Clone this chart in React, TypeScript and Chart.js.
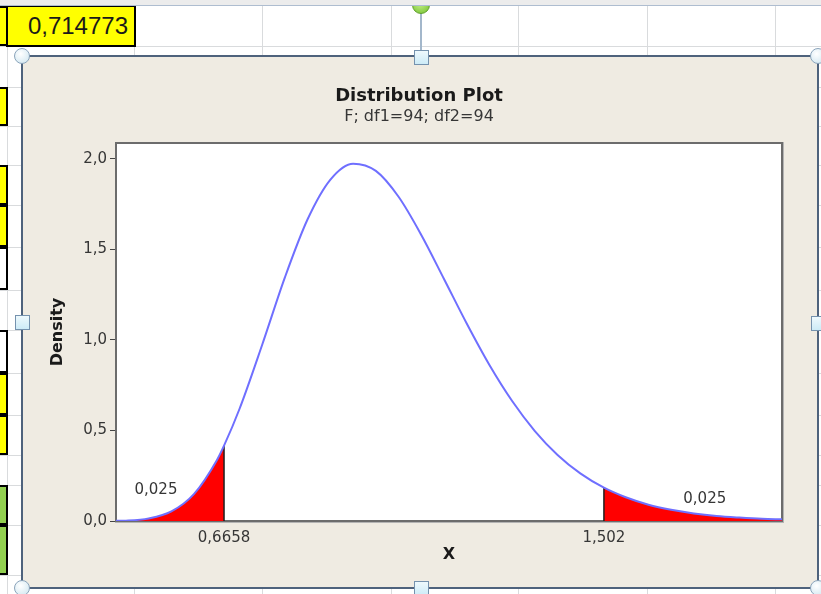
import React, { useEffect, useRef } from "react";
import { Chart, registerables } from "chart.js";

Chart.register(...registerables);

// ---- data ----
const xValues = [
  0.428, 0.45, 0.5, 0.55, 0.6, 0.65, 0.6658, 0.7, 0.75, 0.8, 0.85, 0.9, 0.95, 1.0,
  1.05, 1.1, 1.15, 1.2, 1.25, 1.3, 1.35, 1.4, 1.45, 1.502, 1.55, 1.6, 1.65, 1.7,
  1.75, 1.8, 1.85, 1.894,
];
const density = [
  0.001, 0.002, 0.014, 0.053, 0.15, 0.336, 0.416, 0.62, 0.975, 1.347, 1.668, 1.886,
  1.974, 1.934, 1.791, 1.58, 1.337, 1.091, 0.862, 0.663, 0.497, 0.365, 0.263, 0.184,
  0.131, 0.09, 0.062, 0.042, 0.028, 0.019, 0.012, 0.009,
];
const criticalValues = [0.6658, 1.502];
const criticalDensity = [0.416, 0.184];
const tailProbLabels = ["0,025", "0,025"];
const tailLabelX = [0.516, 1.724];
const tailLabelY = [0.171, 0.122];
const yTickValues = [0, 0.5, 1.0, 1.5, 2.0];
const xMin = 0.428;
const xMax = 1.894;
const yMax = 2.088;
const titleText = "Distribution Plot";
const subtitleText = "F; df1=94; df2=94";
const xTitle = "X";
const yTitle = "Density";
const cellValue = "0,714773";

// ---- spreadsheet layout (decoration) ----
const rowLines = [46, 87, 126, 165, 205, 247, 290, 330, 373, 415, 455, 485, 525, 575];
const colLines = [7, 134, 262, 391, 518, 647, 775];
const leftCells: [number, number, string][] = [
  [6, 46, "#ffff00"],
  [87, 126, "#ffff00"],
  [165, 205, "#ffff00"],
  [205, 247, "#ffff00"],
  [247, 290, "#ffffff"],
  [330, 373, "#ffffff"],
  [373, 415, "#ffff00"],
  [415, 455, "#ffff00"],
  [485, 525, "#92d050"],
  [525, 575, "#92d050"],
];

const FONT = "'DejaVu Sans', Verdana, sans-serif";
const TEXT = "#363636";

const decor = {
  id: "decor",
  beforeDraw(chart: any) {
    const { ctx, chartArea: a } = chart;
    ctx.save();
    ctx.fillStyle = "#ffffff";
    ctx.fillRect(a.left, a.top, a.right - a.left, a.bottom - a.top);
    ctx.restore();
  },
  beforeDatasetsDraw(chart: any) {
    const { ctx, chartArea: a } = chart;
    ctx.save();
    ctx.strokeStyle = "#b4b4b4";
    ctx.lineWidth = 1;
    ctx.strokeRect(a.left - 0.5, a.top - 0.5, a.right - a.left + 2, a.bottom - a.top + 2);
    ctx.strokeStyle = "#6c6c6c";
    ctx.lineWidth = 2;
    ctx.strokeRect(a.left, a.top, a.right - a.left, a.bottom - a.top);
    ctx.restore();
  },
  afterDatasetsDraw(chart: any) {
    const { ctx, scales } = chart;
    ctx.save();
    ctx.font = `15px ${FONT}`;
    ctx.fillStyle = TEXT;
    ctx.textAlign = "center";
    ctx.textBaseline = "middle";
    tailProbLabels.forEach((t, i) => {
      ctx.fillText(t, scales.x.getPixelForValue(tailLabelX[i]), scales.y.getPixelForValue(tailLabelY[i]));
    });
    ctx.restore();
  },
};

function pts(filter: (x: number) => boolean) {
  return xValues.map((x, i) => ({ x, y: density[i] })).filter((p) => filter(p.x));
}

export default function App() {
  const ref = useRef<HTMLCanvasElement>(null);
  useEffect(() => {
    const chart = new Chart(ref.current as HTMLCanvasElement, {
      type: "line",
      data: {
        datasets: [
          {
            data: pts(() => true),
            borderColor: "#6f6fff",
            borderWidth: 2,
            pointRadius: 0,
            fill: false,
            cubicInterpolationMode: "monotone",
          },
          {
            data: [
              { x: criticalValues[0], y: 0 },
              { x: criticalValues[0], y: criticalDensity[0] },
            ],
            borderColor: "#1e1e1e",
            borderWidth: 1.5,
            pointRadius: 0,
            fill: false,
          },
          {
            data: [
              { x: criticalValues[1], y: 0 },
              { x: criticalValues[1], y: criticalDensity[1] },
            ],
            borderColor: "#1e1e1e",
            borderWidth: 1.5,
            pointRadius: 0,
            fill: false,
          },
          {
            data: pts((x) => x <= criticalValues[0]),
            borderWidth: 0,
            borderColor: "rgba(0,0,0,0)",
            backgroundColor: "#ff0000",
            pointRadius: 0,
            fill: "origin",
            cubicInterpolationMode: "monotone",
          },
          {
            data: pts((x) => x >= criticalValues[1]),
            borderWidth: 0,
            borderColor: "rgba(0,0,0,0)",
            backgroundColor: "#ff0000",
            pointRadius: 0,
            fill: "origin",
            cubicInterpolationMode: "monotone",
          },
        ],
      },
      options: {
        animation: false,
        responsive: false,
        events: [],
        layout: { padding: { left: 0, top: 0, right: 0, bottom: 0 } },
        plugins: {
          legend: { display: false },
          tooltip: { enabled: false },
          title: {
            display: true,
            text: titleText,
            color: "#1a1a1a",
            font: { family: FONT, size: 18, weight: "bold", lineHeight: 1.2 },
            padding: { top: 27.2, bottom: 0 },
          },
          subtitle: {
            display: true,
            text: subtitleText,
            color: TEXT,
            font: { family: FONT, size: 16, lineHeight: 1.2 },
            padding: { top: 0.6, bottom: 16.4 },
          },
        },
        scales: {
          x: {
            type: "linear",
            min: xMin,
            max: xMax,
            afterBuildTicks: (s: any) => {
              s.ticks = criticalValues.map((v) => ({ value: v }));
            },
            afterFit: (s: any) => {
              s.height = 64;
            },
            grid: { display: false },
            border: { display: false },
            ticks: {
              autoSkip: false,
              maxRotation: 0,
              padding: 0,
              color: TEXT,
              font: { family: FONT, size: 15 },
              callback: (v: any) => String(v).replace(".", ","),
            },
            title: {
              display: true,
              text: xTitle,
              color: "#1a1a1a",
              font: { family: FONT, size: 16, weight: "bold", lineHeight: 1.2 },
              padding: { top: 2, bottom: 20.4 },
            },
          },
          y: {
            type: "linear",
            min: 0,
            max: yMax,
            afterBuildTicks: (s: any) => {
              s.ticks = yTickValues.map((v) => ({ value: v }));
            },
            afterFit: (s: any) => {
              s.width = 92;
            },
            grid: { drawOnChartArea: false, tickLength: 6, color: "#444444", lineWidth: 1 },
            border: { display: false },
            ticks: {
              padding: 3,
              color: TEXT,
              font: { family: FONT, size: 15 },
              callback: (v: any) => Number(v).toFixed(1).replace(".", ","),
            },
            title: {
              display: true,
              text: yTitle,
              color: "#1a1a1a",
              font: { family: FONT, size: 16, weight: "bold", lineHeight: 1.2 },
              padding: { top: 24.4, bottom: 2 },
            },
          },
          yRight: {
            type: "linear",
            position: "right",
            min: 0,
            max: yMax,
            afterFit: (s: any) => {
              s.width = 32;
            },
            grid: { display: false },
            border: { display: false },
            ticks: { display: false },
          },
        },
      },
      plugins: [decor],
    } as any);
    return () => chart.destroy();
  }, []);

  const abs = (s: React.CSSProperties): React.CSSProperties => ({ position: "absolute", ...s });
  const circle = (cx: number, cy: number, key: string) => (
    <div
      key={key}
      style={abs({
        left: cx - 8,
        top: cy - 8,
        width: 16,
        height: 16,
        borderRadius: "50%",
        boxSizing: "border-box",
        border: "1px solid #8aa3ba",
        background: "radial-gradient(circle at 40% 35%, #ffffff, #cce4ef)",
      })}
    />
  );
  const square = (cx: number, cy: number, key: string) => (
    <div
      key={key}
      style={abs({
        left: cx - 7,
        top: cy - 7,
        width: 15,
        height: 15,
        boxSizing: "border-box",
        border: "1px solid #7592ae",
        background: "linear-gradient(#eef9fd, #cdebf7)",
      })}
    />
  );

  return (
    <div
      style={{
        position: "fixed",
        left: 0,
        top: 0,
        width: 821,
        height: 594,
        overflow: "hidden",
        background: "#ffffff",
      }}
    >
      {rowLines.map((y) => (
        <div key={"r" + y} style={abs({ left: 0, top: y, width: 821, height: 1, background: "#d9dbdd" })} />
      ))}
      {colLines.map((x) => (
        <div key={"c" + x} style={abs({ left: x, top: 0, width: 1, height: 594, background: "#d9dbdd" })} />
      ))}
      {leftCells.map(([t, b, c]) => (
        <div
          key={"l" + t}
          style={abs({
            left: -4,
            top: t,
            width: 12,
            height: b - t,
            boxSizing: "border-box",
            border: "2px solid #000",
            background: c,
          })}
        />
      ))}
      <div
        style={abs({
          left: 6,
          top: 5,
          width: 130,
          height: 42,
          boxSizing: "border-box",
          border: "2px solid #000",
          background: "#ffff00",
          fontFamily: "'Liberation Sans', Arial, sans-serif",
          fontSize: 24,
          lineHeight: "38px",
          color: "#1a1a1a",
          textAlign: "right",
          paddingRight: 6,
        })}
      >
        {cellValue}
      </div>
      <div
        style={abs({
          left: 21,
          top: 55,
          width: 798,
          height: 534,
          boxSizing: "border-box",
          border: "2px solid #4e627c",
          background: "#efebe2",
        })}
      />
      <canvas ref={ref} width={790} height={527} style={abs({ left: 24, top: 58, width: 790, height: 527 })} />
      <div style={abs({ left: 420, top: 12, width: 2, height: 40, background: "#a3b7cb" })} />
      <div
        style={abs({
          left: 412,
          top: -4,
          width: 18,
          height: 18,
          borderRadius: "50%",
          boxSizing: "border-box",
          border: "1px solid #5e9e2a",
          background: "radial-gradient(circle at 45% 40%, #c4f08a, #72c02c)",
        })}
      />
      <div
        style={abs({
          left: 0,
          top: 0,
          width: 821,
          height: 5,
          background: "#ececec",
          borderBottom: "1px solid #aebdd0",
        })}
      />
      {circle(22, 56, "h1")}
      {circle(818, 56, "h2")}
      {circle(22, 588, "h3")}
      {circle(818, 588, "h4")}
      {square(421, 57, "s1")}
      {square(421, 588, "s2")}
      {square(22, 322, "s3")}
      {square(818, 323, "s4")}
    </div>
  );
}
